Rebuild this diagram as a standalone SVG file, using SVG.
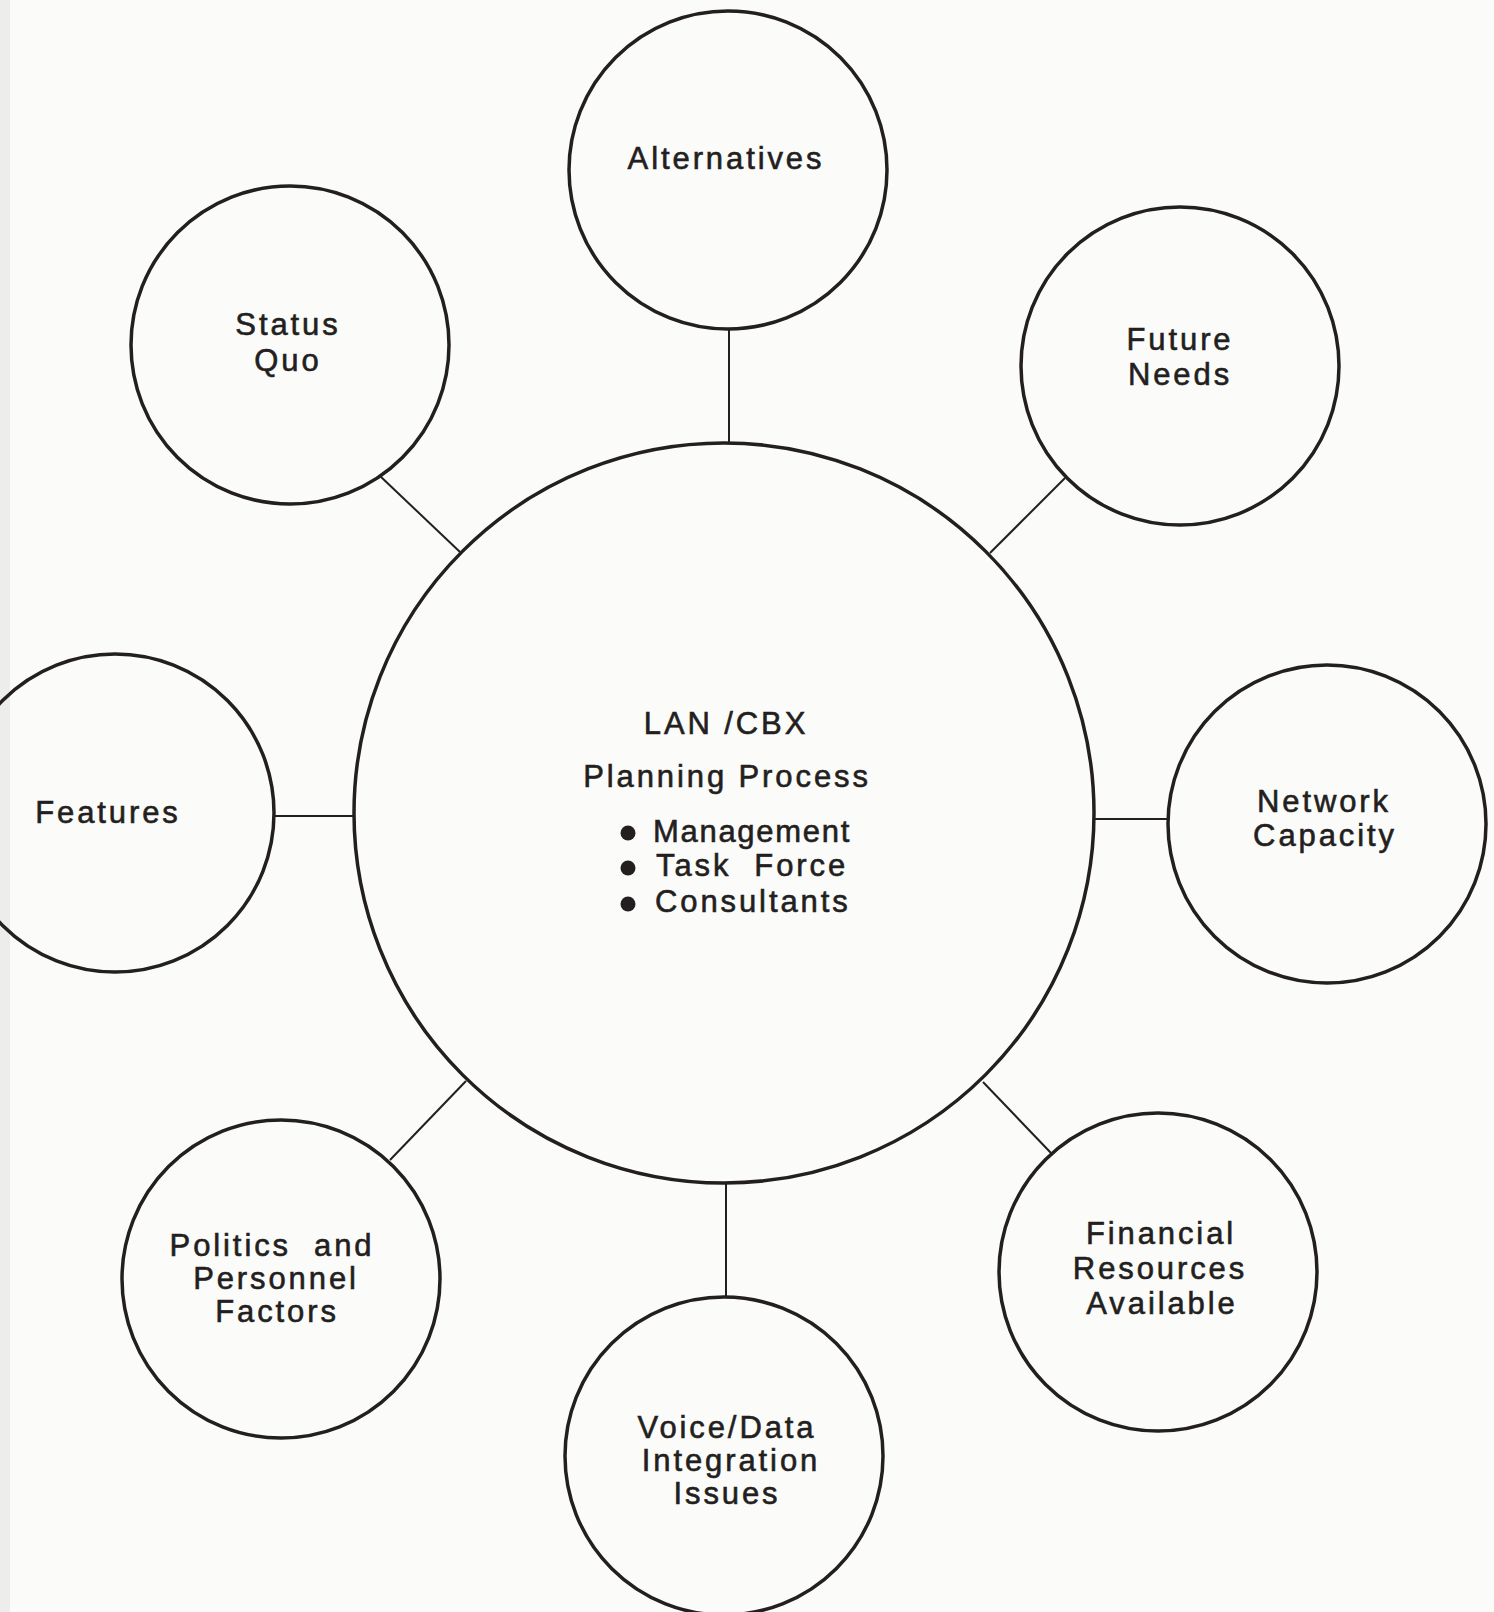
<svg xmlns="http://www.w3.org/2000/svg" width="1494" height="1612" viewBox="0 0 1494 1612">
<style>
.bg{fill:#fbfbfa}
.node circle{fill:none;stroke:#231f20;stroke-width:3.5}
.edge line{stroke:#231f20;stroke-width:2}
text{font-family:"Liberation Sans",Arial,sans-serif;font-size:31px;letter-spacing:2.9px;fill:#231f20;stroke:#231f20;stroke-width:0.6px;text-anchor:middle;white-space:pre}
.left{text-anchor:start}
.node circle.bullet{fill:#231f20;stroke:none}
</style>
<rect class="bg" x="0" y="0" width="1494" height="1612"/>
<rect x="0" y="0" width="10" height="1612" fill="#ededec"/>
<g id="connectors" class="edge">
<line x1="729" y1="329" x2="729" y2="443"/>
<line x1="380" y1="476" x2="460" y2="552"/>
<line x1="1065" y1="478" x2="990" y2="553"/>
<line x1="275" y1="816" x2="355" y2="816"/>
<line x1="1095" y1="819" x2="1168" y2="819"/>
<line x1="983" y1="1082" x2="1051" y2="1153"/>
<line x1="726" y1="1183" x2="726" y2="1297"/>
<line x1="466" y1="1081" x2="390" y2="1160"/>
</g>
<g id="center" class="node">
<circle cx="724" cy="813" r="370"/>
<text x="726" y="734" xml:space="preserve">LAN /CBX</text>
<text x="727" y="787">Planning Process</text>
<circle class="bullet" cx="628" cy="833" r="7.5"/>
<circle class="bullet" cx="628" cy="868" r="7.5"/>
<circle class="bullet" cx="628" cy="904" r="7.5"/>
<text class="left" x="653" y="842" style="letter-spacing:1.7px">Management</text>
<text class="left" x="656" y="876" xml:space="preserve">Task  Force</text>
<text class="left" x="655" y="912">Consultants</text>
</g>
<g id="alternatives" class="node">
<circle cx="728" cy="170" r="159"/>
<text x="726" y="169">Alternatives</text>
</g>
<g id="status-quo" class="node">
<circle cx="290" cy="345" r="159"/>
<text x="288" y="335">Status</text>
<text x="288" y="371">Quo</text>
</g>
<g id="future-needs" class="node">
<circle cx="1180" cy="366" r="159"/>
<text x="1180" y="350">Future</text>
<text x="1180" y="385">Needs</text>
</g>
<g id="features" class="node">
<circle cx="115" cy="813" r="159"/>
<text x="108" y="823">Features</text>
</g>
<g id="network-capacity" class="node">
<circle cx="1327" cy="824" r="159"/>
<text x="1324" y="812">Network</text>
<text x="1325" y="846">Capacity</text>
</g>
<g id="financial-resources" class="node">
<circle cx="1158" cy="1272" r="159"/>
<text x="1161" y="1244">Financial</text>
<text x="1160" y="1279">Resources</text>
<text x="1162" y="1314">Available</text>
</g>
<g id="voice-data" class="node">
<circle cx="724" cy="1456" r="159"/>
<text x="727" y="1438">Voice/Data</text>
<text x="731" y="1471">Integration</text>
<text x="727" y="1504">Issues</text>
</g>
<g id="politics-personnel" class="node">
<circle cx="281" cy="1279" r="159"/>
<text x="272" y="1256" xml:space="preserve">Politics  and</text>
<text x="276" y="1289">Personnel</text>
<text x="277" y="1322">Factors</text>
</g>
</svg>
